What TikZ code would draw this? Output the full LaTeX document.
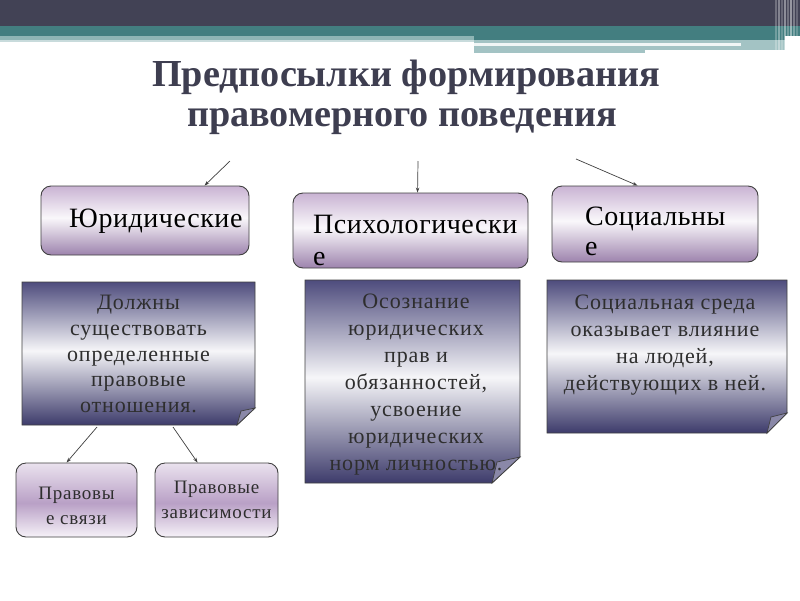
\documentclass[tikz,border=0pt]{standalone}
\usepackage{fontspec}
\setmainfont{Liberation Serif}
\newfontfamily\spacedserif[LetterSpace=4]{Liberation Serif}
\newfontfamily\widerserif[LetterSpace=2]{Liberation Serif}
\usetikzlibrary{calc,arrows.meta}
\definecolor{hdrdark}{HTML}{424255}
\definecolor{hdrteal}{HTML}{437E80}
\definecolor{hdrlight}{HTML}{A3C3C4}
\definecolor{hdrlight2}{HTML}{8FB5B5}
\definecolor{titlec}{HTML}{3E3E50}
\definecolor{tbTop}{HTML}{C9B3D3}
\definecolor{tbBot}{HTML}{9D83AD}
\definecolor{bbTop}{HTML}{EAE2EE}
\definecolor{bbMid}{HTML}{B9A0C6}
\definecolor{bbBot}{HTML}{F6F2F8}
\definecolor{ntTop}{HTML}{4E4C7D}
\definecolor{ntBot}{HTML}{3D3B6B}
\definecolor{flap}{HTML}{8A88A8}
\definecolor{txt}{HTML}{2E2E2E}
\definecolor{edge}{HTML}{404040}
\pgfdeclareverticalshading{topboxsh}{100bp}{color(0bp)=(tbBot); color(25bp)=(tbBot); color(52bp)=(white!90!tbTop); color(75bp)=(tbTop); color(100bp)=(tbTop)}
\pgfdeclareverticalshading{botboxsh}{100bp}{color(0bp)=(bbBot); color(25bp)=(bbBot); color(48bp)=(bbMid); color(75bp)=(bbTop); color(100bp)=(bbTop)}
\pgfdeclareverticalshading{notesh}{100bp}{color(0bp)=(ntBot); color(25bp)=(ntBot); color(51bp)=(white!95!ntTop); color(75bp)=(ntTop); color(100bp)=(ntTop)}
\tikzset{
  rbox/.style={draw=edge, line width=0.9pt, rounded corners=10pt, shading=topboxsh},
  sbox/.style={draw=edge, line width=0.9pt, rounded corners=10pt, shading=botboxsh},
  notefill/.style={draw=edge, line width=0.9pt, shading=notesh},
  boxtxt/.style={text=black, font=\widerserif\fontsize{28}{32}\selectfont, inner sep=0pt, anchor=base west},
  notetxt/.style={text=txt, font=\spacedserif\fontsize{22}{25.75}\selectfont, align=center, inner sep=0pt},
  notetxtb/.style={text=txt, font=\spacedserif\fontsize{22}{27}\selectfont, align=center, inner sep=0pt},
  smalltxt/.style={text=txt, font=\spacedserif\fontsize{19}{25}\selectfont, align=center, inner sep=0pt},
  conn/.style={draw=edge, line width=0.7pt, -{Stealth[length=5pt,width=3.5pt]}}
}
\begin{document}
\begin{tikzpicture}[x=1pt,y=-1pt]
\useasboundingbox (0,0) rectangle (800,600);
\fill[white] (0,0) rectangle (800,600);
% header
\fill[hdrdark] (0,0) rectangle (800,26);
\fill[hdrteal] (0,26) rectangle (800,36);
\fill[hdrlight2] (0,36) rectangle (474,40);
\fill[hdrlight!60!white] (0,40) rectangle (474,41.5);
\fill[hdrteal] (474,36) rectangle (785,40);
\fill[hdrlight] (474,40) rectangle (785,50);
\fill[hdrlight] (474,50) rectangle (645,53);
\fill[white!85!hdrlight] (474,43) rectangle (741,45.5);
\foreach \xx/\op in {775/0.25,778/0.35,781/0.2,784/0.4,787/0.25,790/0.45,793/0.3,796/0.2}
  \fill[white,opacity=\op] (\xx,0) rectangle ++(1.5,53);
% title
\node[text=titlec, font=\fontsize{38.2}{42}\bfseries, anchor=base] (t1) at (406,86) {Предпосылки формирования};
\node[text=titlec, font=\fontsize{38.2}{42}\bfseries, anchor=base] (t2) at (402,126) {правомерного поведения};
% top boxes
\node[rbox, minimum width=208pt, minimum height=69pt, inner sep=0pt] (jur) at (145,220.5) {};
\node[rbox, minimum width=235pt, minimum height=75pt, inner sep=0pt] (psy) at (410.5,230.5) {};
\node[rbox, minimum width=206pt, minimum height=76pt, inner sep=0pt] (soc) at (655,224) {};
\node[boxtxt] (jurT) at (69,227) {Юридические};
\node[boxtxt] (psyT) at (313,233) {Психологически};
\node[boxtxt] (psyT2) at (313,265) {е};
\node[boxtxt] (socT) at (585,225) {Социальны};
\node[boxtxt] (socT2) at (585,255) {е};
% top arrows
\coordinate (a1) at (230,161);
\coordinate (a2) at (418,161);
\coordinate (a3) at (576,159);
\draw[conn] (a1) -- ($(jur.north west)+(164,0)$);
\draw[conn] (a2) -- ($(psy.north west)+(125,0)$);
\draw[conn] (a3) -- ($(soc.north west)+(86,0)$);
% notes
\shade[notefill] (22,282) -- (255,282) -- (255,408) -- (237,425) -- (22,425) -- cycle;
\filldraw[fill=flap, draw=edge, line width=0.7pt] (255,408) -- (237,425) -- (241,411) -- cycle;
\node[notetxt] (n1) at (138.5,354) {Должны\\существовать\\определенные\\правовые\\отношения.};
\shade[notefill] (305,280) -- (520,280) -- (520,457) -- (492,483) -- (305,483) -- cycle;
\filldraw[fill=flap, draw=edge, line width=0.7pt] (520,457) -- (492,483) -- (497,462) -- cycle;
\node[notetxtb] (n2) at (416,385) {Осознание\\юридических\\прав и\\обязанностей,\\усвоение\\юридических\\норм личностью.};
\shade[notefill] (547,280) -- (787,280) -- (787,413) -- (767,433) -- (547,433) -- cycle;
\filldraw[fill=flap, draw=edge, line width=0.7pt] (787,413) -- (767,433) -- (771,417) -- cycle;
\node[notetxtb] (n3) at (665,345) {Социальная среда\\оказывает влияние\\на людей,\\действующих в ней.};
% bottom boxes
\node[sbox, minimum width=121pt, minimum height=74pt, inner sep=0pt] (pb1) at (76.5,500) {};
\node[sbox, minimum width=123pt, minimum height=74pt, inner sep=0pt] (pb2) at (216.5,500) {};
\node[smalltxt] (pb1T) at (76.5,506) {Правовы\\е связи};
\node[smalltxt] (pb2T) at (216.5,500) {Правовые\\зависимости};
\coordinate (b1) at (97,427);
\coordinate (b2) at (173,427);
\draw[conn] (b1) -- ($(pb1.north west)+(51,0)$);
\draw[conn] (b2) -- ($(pb2.north west)+(43,0)$);
\end{tikzpicture}
\end{document}
